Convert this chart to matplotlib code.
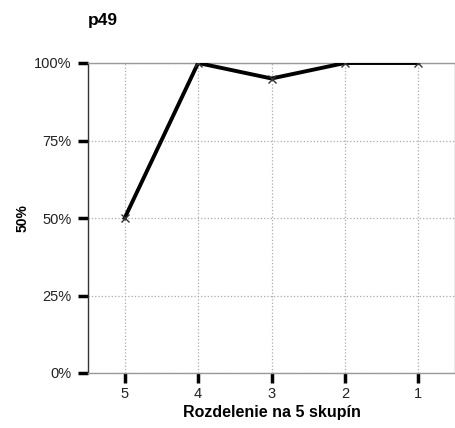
import numpy as np
import matplotlib.pyplot as plt
from matplotlib.ticker import PercentFormatter

plt.rcParams['font.family'] = ['Liberation Sans', 'DejaVu Sans']

categories = ['5', '4', '3', '2', '1']
values = [50, 100, 95, 100, 100]

fig = plt.figure(figsize=(4.56, 4.28), dpi=100)
ax = fig.add_axes([88/456, 1-373/428, (455-88)/456, (373-63)/428])

x = np.arange(len(categories))
ax.plot(x, values, color='black', linewidth=2.8, zorder=3)
ax.plot(x, values, linestyle='none', marker='x', markersize=6,
        markeredgecolor='#333333', markeredgewidth=1, zorder=4)

ax.set_xlim(-0.5, len(categories) - 0.5)
ax.set_ylim(0, 100)
ax.set_xticks(x)
ax.set_xticklabels(categories)
ax.set_yticks([0, 25, 50, 75, 100])
ax.yaxis.set_major_formatter(PercentFormatter(decimals=0))

ax.grid(True, linestyle=':', color='#aaaaaa', linewidth=0.9)
ax.set_axisbelow(True)
for side in ['top', 'right', 'bottom']:
    ax.spines[side].set_color('#999999')
    ax.spines[side].set_linewidth(1)
ax.spines['left'].set_color('#333333')
ax.spines['left'].set_linewidth(1)

ax.tick_params(axis='both', length=7, width=2.5, color='black',
               labelsize=10.5, labelcolor='#222222', pad=5)
ax.tick_params(axis='x', pad=3)

ax.set_xlabel('Rozdelenie na 5 skupín', fontsize=11.5, fontweight='bold', labelpad=3)
ax.set_ylabel('50%', fontsize=10, fontweight='bold', labelpad=3)
fig.text(88/456, 1-20/428, 'p49', fontsize=12.5, fontweight='bold', va='center')

fig.savefig('out.png', dpi=100)
